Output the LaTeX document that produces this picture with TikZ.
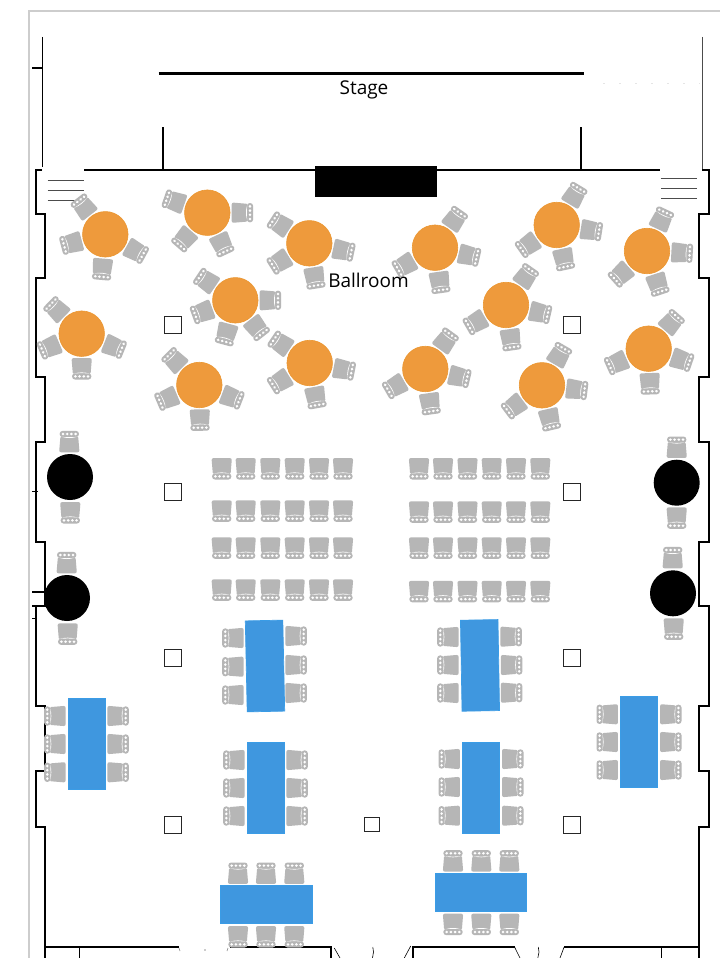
\documentclass[tikz,border=0pt]{standalone}
\usepackage{fontspec}
\setmainfont{Open Sans}
\definecolor{seatgray}{HTML}{B6B6B6}
\definecolor{tableorange}{HTML}{EE9A3C}
\definecolor{orangeedge}{HTML}{EB9630}
\definecolor{tableblue}{HTML}{3F97DF}
\definecolor{blueedge}{HTML}{3A9CE6}
\definecolor{framegray}{HTML}{CDCDCD}
\tikzset{
  x=1pt,y=-1pt,
  chair/.pic={
    \fill[seatgray,rounded corners=2pt] (-10.2,-10.6) -- (10.2,-10.6) -- (8.8,6) -- (-8.8,6) -- cycle;
    \fill[seatgray,rounded corners=2.8pt] (-9.6,4.6) rectangle (9.6,10.8);
    \fill[white] (-7.6,4.9) .. controls (-3,3.3) and (3,3.3) .. (7.6,4.9) .. controls (3,4.3) and (-3,4.3) .. cycle;
    \foreach \dx in {-6.3,-2.1,2.1,6.3}{\fill[white] (\dx,7.7) ellipse (1.5pt and 1.35pt);}
  },
  roundtable/.style={circle,fill=tableorange,draw=orangeedge,line width=0.6pt,minimum size=45.5pt,inner sep=0pt,outer sep=0pt},
  blacktable/.style={circle,fill=black,minimum size=46pt,inner sep=0pt,outer sep=0pt},
  longtable/.style={rectangle,fill=tableblue,draw=blueedge,line width=0.7pt,minimum width=37.5pt,minimum height=91pt,inner sep=0pt,outer sep=0pt},
  widetable/.style={rectangle,fill=tableblue,draw=blueedge,line width=0.7pt,minimum width=91pt,minimum height=38pt,inner sep=0pt,outer sep=0pt},
  pillar/.style={rectangle,draw=black!85,fill=white,line width=1pt,minimum size=17pt,inner sep=0pt,outer sep=0pt},
  wall/.style={draw=black,line width=2pt,line join=miter},
  thinwall/.style={draw=black,line width=1.2pt},
  stair/.style={draw=black!70,line width=0.9pt},
  label/.style={font=\fontsize{19}{21}\selectfont,text=black,inner sep=0pt},
}
\newcommand{\seatsround}[3]{\foreach \a in {#3}{\pic[rotate=90-\a] at ({#1+35*cos(\a)},{#2+35*sin(\a)}) {chair};}}
\newcommand{\seatat}[3]{\pic[rotate=#3] at (#1,#2) {chair};}
\begin{document}
\begin{tikzpicture}
\useasboundingbox (0,0) rectangle (720,958);
\fill[white] (0,0) rectangle (720,958);
% outer frame
\draw[framegray,line width=2pt] (28.7,958) -- (28.7,10.7) -- (720,10.7);
% stage
\draw[thinwall] (42.5,37) -- (42.5,167);
\draw[wall] (32,68) -- (42.5,68);
\draw[draw=black!70,line width=1pt] (702.3,37) -- (702.3,170);
\draw[draw=black,line width=2.2pt] (158.5,73.5) -- (583.5,73.5);
\draw[wall] (162.5,127) -- (162.5,170);
\draw[wall] (581,127) -- (581,170);
\draw[wall] (84,170) -- (160,170);
\draw[draw=black,line width=1.4pt] (160,170) -- (582,170);
\draw[wall] (582,170) -- (660,170);
\fill[black] (315,166) rectangle (437,197);
\draw[draw=black!10,line width=0.7pt,dash pattern=on 2pt off 14pt] (603,83) -- (700,83);
% left wall
\draw[wall] (42,170) -- (36,170) -- (36,213.5) -- (45.3,213.5) -- (45.3,277.5) -- (36,277.5) -- (36,377.3) -- (45.3,377.3) -- (45.3,442.3) -- (36,442.3) -- (36,542) -- (45.3,542) -- (45.3,606) -- (36,606) -- (36,706) -- (45.3,706) -- (45.3,771) -- (36,771) -- (36,826.7) -- (45.3,826.7) -- (45.3,947.3) -- (179,947.3);
\draw[thinwall] (32,491.5) -- (38,491.5);
\draw[wall] (32,592) -- (45,592);
\draw[wall] (32,606) -- (36,606);
\draw[thinwall] (32,618.5) -- (37,618.5);
% right wall
\draw[wall] (702,170) -- (708.5,170) -- (708.5,213.5) -- (698.5,213.5) -- (698.5,277.5) -- (708.5,277.5) -- (708.5,377.3) -- (698.5,377.3) -- (698.5,442.3) -- (708.5,442.3) -- (708.5,542) -- (698.5,542) -- (698.5,606) -- (708.5,606) -- (708.5,706) -- (698.5,706) -- (698.5,771) -- (708.5,771) -- (708.5,826.7) -- (698.7,826.7) -- (698.7,947.3) -- (564,947.3);
% bottom wall
\draw[wall] (45.3,947.3) -- (45.3,958);
\draw[thinwall] (79.5,947.3) -- (79.5,958);
\draw[wall] (230,947.3) -- (331,947.3) -- (331,958);
\draw[wall] (413,958) -- (413,947.3) -- (514.7,947.3);
\draw[thinwall] (661.7,947.3) -- (661.7,958);
\draw[wall] (698.7,947.3) -- (698.7,958);
\draw[draw=black,line width=0.6pt] (334.3,948) -- (340,958);
\draw[draw=black,line width=0.6pt] (410.7,946) -- (404.3,958);
\draw[draw=black,line width=0.6pt] (514.7,947.3) -- (520,958);
\draw[draw=black,line width=0.6pt] (564,947.3) -- (560,958);
\draw[draw=black,line width=0.6pt] (372.8,947) -- (373.5,952) -- (372.5,958);
\draw[draw=black,line width=0.6pt] (538.3,947) -- (539,952) -- (537.8,958);
\draw[draw=black!50,line width=0.6pt] (179,948) -- (180,951);
\draw[draw=black!50,line width=0.6pt] (228,948) -- (227,951);
\fill[black!40] (205,950) circle (0.8pt);
% stairs
\draw[stair] (47.5,180.5) -- (84,180.5);
\draw[stair] (47.5,190) -- (84,190);
\draw[stair] (47.5,200.5) -- (75,200.5);
\draw[stair] (660.5,178.5) -- (697,178.5);
\draw[stair] (661,188) -- (697,188);
\draw[stair] (661,198.5) -- (697,198.5);
% pillars
\node[pillar] (p1) at (172.5,325) {};
\node[pillar] (p2) at (172.5,491.7) {};
\node[pillar] (p3) at (172.5,658) {};
\node[pillar] (p4) at (172.5,824.7) {};
\node[pillar] (p5) at (571.7,325) {};
\node[pillar] (p6) at (571.7,491.7) {};
\node[pillar] (p7) at (571.7,658) {};
\node[pillar] (p8) at (571.7,824.7) {};
\node[pillar,minimum size=14.5pt] (p9) at (372,824.7) {};
% round tables with seats
\seatsround{105.3}{234.3}{232,165,95,29}
\seatsround{207.3}{212.7}{199,131,65,0}
\seatsround{309.3}{243.3}{213,148,81,12}
\seatsround{235.3}{300.3}{214,160,105,52,0}
\seatsround{81.7}{333.7}{224,157,90,22}
\seatsround{199.3}{385}{225,157,89,21}
\seatsround{309.7}{363}{214,148,80,11}
\seatsround{435}{247.7}{305,13,82,150}
\seatsround{556.7}{225}{301,9,78,145}
\seatsround{647}{251}{295,3,72,138}
\seatsround{506}{305}{305,13,82,150}
\seatsround{425.3}{369}{306,13,82,150}
\seatsround{542}{385.3}{300,7,77,143}
\seatsround{648.7}{348.7}{311,19,88,156}
\node[roundtable] (t1) at (105.3,234.3) {};
\node[roundtable] (t2) at (207.3,212.7) {};
\node[roundtable] (t3) at (309.3,243.3) {};
\node[roundtable] (t4) at (235.3,300.3) {};
\node[roundtable] (t5) at (81.7,333.7) {};
\node[roundtable] (t6) at (199.3,385) {};
\node[roundtable] (t7) at (309.7,363) {};
\node[roundtable] (t8) at (435,247.7) {};
\node[roundtable] (t9) at (556.7,225) {};
\node[roundtable] (t10) at (647,251) {};
\node[roundtable] (t11) at (506,305) {};
\node[roundtable] (t12) at (425.3,369) {};
\node[roundtable] (t13) at (542,385.3) {};
\node[roundtable] (t14) at (648.7,348.7) {};
% black tables with seats
\seatat{69.3}{441.7}{180}
\seatat{70.3}{512.7}{0}
\seatat{66.7}{562.7}{180}
\seatat{67.7}{634}{0}
\seatat{676.7}{447.3}{180}
\seatat{676.7}{518}{0}
\seatat{672.7}{557.7}{180}
\seatat{673.7}{629}{0}
\node[blacktable] (b1) at (70,477) {};
\node[blacktable] (b2) at (67,598) {};
\node[blacktable] (b3) at (676.7,482.7) {};
\node[blacktable] (b4) at (673,593.3) {};
% theatre rows
\foreach \yy in {468.7,511,548,590}{
  \foreach \xx in {221.7,245.7,270.3,294.7,319,343}{\seatat{\xx}{\yy}{0}}
}
\foreach \yy in {468.7,512,548,591.5}{
  \foreach \xx in {419,443,467.5,491.7,516,540.3}{\seatat{\xx}{\yy}{0}}
}
% long tables with seats
\foreach \xx/\yy in {55/716,55/744,55/772.3, 233/638,233/666.7,233/695, 234/760,234/788,234/816, 448/637,448/665,448/693, 607.3/714.3,607.3/742,607.3/770, 449.3/759,449.3/787,449.3/815.7}{\seatat{\xx}{\yy}{-90}}
\foreach \xx/\yy in {118/716,118/744,118/772.3, 296/636,296/665,296/693, 297/760,297/788,297/816, 511/636.7,511.5/665,511.5/692.7, 670.7/714.3,670.7/742,670.7/770, 512.7/759,512.7/787,512.7/815.7}{\seatat{\xx}{\yy}{90}}
\node[longtable] (l1) at (86.7,744.2) {};
\node[longtable,rotate=1.2] (l2) at (265,666) {};
\node[longtable] (l3) at (265.7,788.2) {};
\node[longtable,rotate=1] (l4) at (480,665.4) {};
\node[longtable] (l5) at (639,741.9) {};
\node[longtable] (l6) at (481,787.5) {};
% wide tables with seats
\foreach \xx in {238,266,294.3}{\seatat{\xx}{873.3}{180}\seatat{\xx}{936.7}{0}}
\foreach \xx in {453,481.3,509.3}{\seatat{\xx}{861}{180}\seatat{\xx}{924.3}{0}}
\node[widetable,minimum width=92pt] (w1) at (266.1,904.8) {};
\node[widetable] (w2) at (481.2,892.8) {};
% labels
\node[label] (stage) at (364,90) {Stage};
\node[label] (ballroom) at (368.5,280.5) {Ballroom};
\end{tikzpicture}
\end{document}
